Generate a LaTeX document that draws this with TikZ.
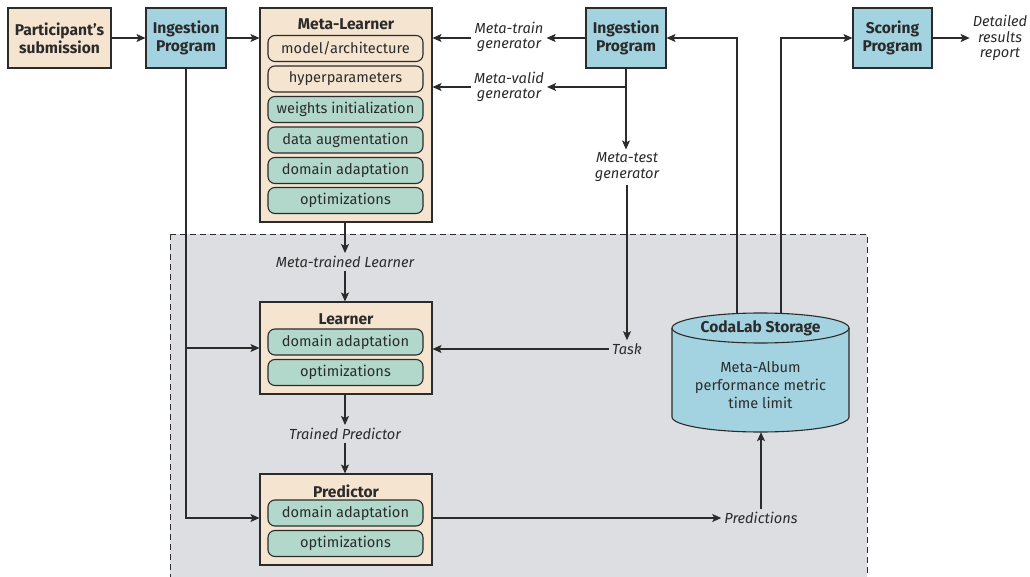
\documentclass[tikz,border=0pt]{standalone}
\usepackage{fontspec}
\setmainfont{Fira Sans}
\usetikzlibrary{arrows.meta,calc}
\definecolor{beige}{HTML}{F5E4CF}
\definecolor{skyb}{HTML}{A3D3E0}
\definecolor{teal}{HTML}{B2D8CB}
\definecolor{bgray}{HTML}{DCDEE2}
\definecolor{ink}{HTML}{2B2B2B}
\tikzset{
  every node/.style={font=\fontsize{14.6}{16}\selectfont, text=ink},
  box/.style={draw=ink, line width=1.1pt, minimum width=#1, minimum height=60, align=center, inner sep=0pt, font=\fontsize{15.6}{18}\selectfont\bfseries},
  outer/.style={draw=ink, line width=1.1pt, fill=beige, inner sep=0pt},
  sub/.style={draw=ink, line width=1.1pt, rounded corners=7pt, minimum width=155, minimum height=26, inner sep=0pt},
  ttl/.style={font=\fontsize{15.6}{18}\selectfont\bfseries},
  lab/.style={font=\fontsize{14.6}{15.5}\selectfont\itshape, align=center, inner sep=3pt},
  conn/.style={draw=ink, line width=1.1pt, -{Stealth[length=9pt,width=8pt,inset=2pt]}},
}
\begin{document}
\begin{tikzpicture}[x=1pt,y=-1pt]
\useasboundingbox (0,0) rectangle (1030,577);
\clip (0,0) rectangle (1030,577);
% background region
\path[fill=bgray, draw=ink, line width=0.9pt, dash pattern=on 6pt off 4pt] (170,234) rectangle (867,590);

% top row
\node[box=103, fill=beige] (part) at (59.5,38) {Participant's\\submission};
\node[box=80, fill=skyb] (ingL) at (186,38) {Ingestion\\Program};
\node[box=80, fill=skyb] (ingR) at (626,38) {Ingestion\\Program};
\node[box=79, fill=skyb] (score) at (892.5,38) {Scoring\\Program};
\node[lab] (detail) at (1000,38) {Detailed\\results\\report};

% Meta-learner
\node[outer, minimum width=172, minimum height=214] (metaL) at (346,115) {};
\node[ttl] (metaLt) at (346,24) {Meta-Learner};
\node[sub, fill=beige] (m1) at (345.5,48.5) {model/architecture};
\node[sub, fill=beige] (m2) at (345.5,79) {hyperparameters};
\node[sub, fill=teal] (m3) at (345.5,109.5) {weights initialization};
\node[sub, fill=teal] (m4) at (345.5,140) {data augmentation};
\node[sub, fill=teal] (m5) at (345.5,170.5) {domain adaptation};
\node[sub, fill=teal] (m6) at (345.5,200.5) {optimizations};

% labels
\node[lab] (mtrain) at (509,37) {Meta-train\\generator};
\node[lab] (mvalid) at (509,87) {Meta-valid\\generator};
\node[lab] (mtest) at (627,167) {Meta-test\\generator};
\node[lab] (task) at (627,349) {Task};
\node[lab] (mtl) at (345,262) {Meta-trained Learner};
\node[lab] (tp) at (345,434) {Trained Predictor};
\node[lab] (preds) at (761,518) {Predictions};

% Learner
\node[outer, minimum width=172, minimum height=92] (learner) at (346,348) {};
\node[ttl] (learnert) at (346,319) {Learner};
\node[sub, fill=teal] (l1) at (345.5,342) {domain adaptation};
\node[sub, fill=teal] (l2) at (345.5,372.5) {optimizations};

% Predictor
\node[outer, minimum width=172, minimum height=91] (pred) at (346,519.5) {};
\node[ttl] (predt) at (346,491) {Predictor};
\node[sub, fill=teal] (p1) at (345.5,513) {domain adaptation};
\node[sub, fill=teal] (p2) at (345.5,543.5) {optimizations};

% storage cylinder
\node[minimum width=177, minimum height=121, inner sep=0pt] (store) at (760.5,371.5) {};
\path[fill=skyb, draw=ink, line width=1.1pt]
  (672,328) -- (672,417) arc[x radius=88.5, y radius=15, start angle=180, end angle=0]
  -- (849,328) arc[x radius=88.5, y radius=15, start angle=0, end angle=-180] -- cycle;
\draw[ink, line width=1.1pt] (672,328) arc[x radius=88.5, y radius=15, start angle=180, end angle=0];
\node[ttl] (storet) at (760.5,328) {CodaLab Storage};
\node[align=center, font=\fontsize{14.6}{18}\selectfont] (storeb) at (760.5,385) {Meta-Album\\performance metric\\time limit};

% connectors
\draw[conn] (part) -- (ingL);
\draw[conn] (ingL.east) -- (ingL.east -| metaL.west);
\draw[conn] (ingR.west) -- (ingR.west -| mtrain.east);
\draw[conn] (mtrain.west |- ingR.west) -- (metaL.east |- ingR.west);
\coordinate (br) at (ingR.south |- mvalid);
\draw[conn] (br) -- (mvalid.east);
\draw[conn] (mvalid.west) -- (metaL.east |- mvalid);
\draw[conn] (ingR.south) -- (ingR.south |- mtest.north);
\draw[conn] (mtest.south) -- (task.north);
\draw[conn] (task.west) -- (learner.east |- task);
\draw[conn] (ingL.south) |- (pred.west |- preds);
\draw[conn] (ingL.south |- learner) -- (learner.west);
\draw[conn] (metaL.south -| mtl) -- (mtl.north);
\draw[conn] (mtl.south) -- (learner.north -| mtl);
\draw[conn] (learner.south -| tp) -- (tp.north);
\draw[conn] (tp.south) -- (pred.north -| tp);
\draw[conn] (pred.east |- preds) -- (preds.west);
\draw[conn] (preds.north) -- (store.south -| preds);
\coordinate (s1) at (737,313.5);
\coordinate (s2) at (781,313);
\draw[conn] (s1) |- (ingR.east);
\draw[conn] (s2) |- (score.west);
\draw[conn] (score.east) -- (detail.west);
\end{tikzpicture}
\end{document}
